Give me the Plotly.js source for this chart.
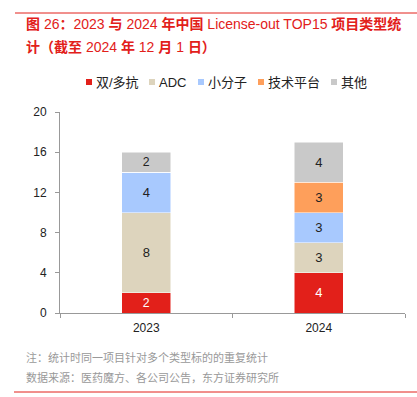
<!DOCTYPE html>
<html><head><meta charset="utf-8">
<script src="https://cdn.plot.ly/plotly-3.0.1.min.js"></script>
<style>html,body{margin:0;padding:0;background:#fff}</style>
</head><body><div id="chart" style="width:417px;height:397px"></div>
<script>
const years = ['2023', '2024'];
const seriesNames = ['双/多抗', 'ADC', '小分子', '技术平台', '其他'];
const bispecific = [2, 4];
const adc = [8, 3];
const smallMolecule = [4, 3];
const techPlatform = [0, 3];
const others = [2, 4];
const yTicks = [0, 4, 8, 12, 16, 20];

const colors = ['#E2201A', '#DDD4BD', '#A8C9FE', '#FE9F5B', '#C9C9C9'];
const textColors = ['#FFFFFF', '#222222', '#222222', '#222222', '#222222'];
const allValues = [bispecific, adc, smallMolecule, techPlatform, others];

const cjk = '"Liberation Sans", "Noto Sans CJK SC", Arial, sans-serif';
const latin = '"Liberation Sans", Arial, sans-serif';

const traces = allValues.map((vals, i) => ({
  type: 'bar',
  name: seriesNames[i],
  x: years,
  y: vals,
  text: vals.map(v => v ? String(v) : ''),
  texttemplate: '%{text}',
  textposition: 'inside',
  insidetextanchor: 'middle',
  textangle: 0,
  textfont: {family: latin, size: 13, color: textColors[i]},
  marker: {color: colors[i], line: {color: '#FFFFFF', width: 0.5}},
  hoverinfo: 'skip',
  showlegend: false
}));

const H = 201, L = 60, W = 345;
const py = px => (313 - px) / H;
const pxx = px => (px - L) / W;

// custom compact legend (square + label), positions in pixels
const legendSquareX = [86, 149, 198, 258, 331];
const legendY = 82;
const legendShapes = seriesNames.map((n, i) => ({
  type: 'rect', xref: 'paper', yref: 'paper',
  x0: pxx(legendSquareX[i]), x1: pxx(legendSquareX[i] + 6),
  y0: py(legendY - 3), y1: py(legendY + 3),
  fillcolor: colors[i], line: {width: 0}
}));
const legendAnns = seriesNames.map((n, i) => ({
  xref: 'paper', yref: 'paper', x: pxx(legendSquareX[i] + 8), y: py(legendY),
  xanchor: 'left', yanchor: 'middle', showarrow: false, text: n,
  font: {family: cjk, size: 13, color: '#222'}
}));

const title1 = '<b>图</b> 26<b>：</b>2023 <b>与</b> 2024 <b>年中国</b> License-out TOP15 <b>项目类型统</b>';
const title2 = '<b>计（截至</b> 2024 <b>年</b> 12 <b>月</b> 1 <b>日）</b>';

const layout = {
  width: 417, height: 397,
  margin: {l: 60, r: 12, t: 112, b: 84},
  paper_bgcolor: '#fff', plot_bgcolor: '#fff',
  barmode: 'stack',
  bargap: 0.715,
  showlegend: false,
  xaxis: {
    type: 'category',
    showline: true, linecolor: '#999', linewidth: 1,
    ticks: 'outside', tickson: 'boundaries', ticklen: 4, tickcolor: '#999',
    ticklabelstandoff: 4,
    tickfont: {family: latin, size: 12, color: '#222'},
    showgrid: false, zeroline: false, fixedrange: true
  },
  yaxis: {
    range: [0, 20], tickvals: yTicks, ticktext: yTicks.map(String),
    showline: true, linecolor: '#999', linewidth: 1,
    ticks: 'outside', ticklen: 4, tickcolor: '#999',
    ticklabelstandoff: 6,
    tickfont: {family: latin, size: 12, color: '#222'},
    showgrid: false, zeroline: false, fixedrange: true
  },
  shapes: [
    {type: 'line', xref: 'paper', yref: 'paper', x0: pxx(15), x1: pxx(417), y0: py(13), y1: py(13), line: {color: '#E2201A', width: 1}},
    {type: 'line', xref: 'paper', yref: 'paper', x0: pxx(14), x1: pxx(417), y0: py(392), y1: py(392), line: {color: '#E2201A', width: 1}}
  ].concat(legendShapes),
  annotations: [
    {xref: 'paper', yref: 'paper', x: pxx(24), y: py(24), xanchor: 'left', yanchor: 'middle', showarrow: false,
     text: title1, font: {family: cjk, size: 14, color: '#E2201A'}},
    {xref: 'paper', yref: 'paper', x: pxx(24), y: py(47), xanchor: 'left', yanchor: 'middle', showarrow: false,
     text: title2, font: {family: cjk, size: 14, color: '#E2201A'}},
    {xref: 'paper', yref: 'paper', x: pxx(24), y: py(357), xanchor: 'left', yanchor: 'middle', showarrow: false,
     text: '注：统计时同一项目针对多个类型标的的重复统计', font: {family: cjk, size: 11, color: '#999999'}},
    {xref: 'paper', yref: 'paper', x: pxx(24), y: py(377), xanchor: 'left', yanchor: 'middle', showarrow: false,
     text: '数据来源：医药魔方、各公司公告，东方证券研究所', font: {family: cjk, size: 11, color: '#999999'}}
  ].concat(legendAnns)
};

Plotly.newPlot('chart', traces, layout, {displayModeBar: false, staticPlot: true});
</script></body></html>
